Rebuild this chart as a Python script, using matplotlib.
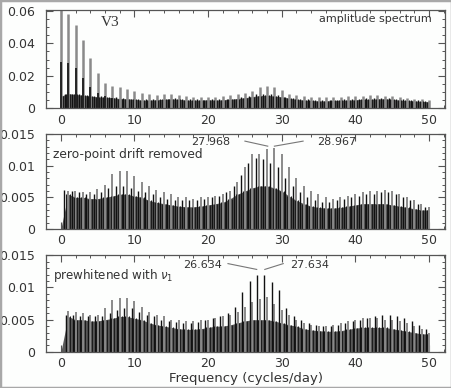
import numpy as np
import matplotlib.pyplot as plt
from matplotlib.ticker import MultipleLocator, FuncFormatter
from matplotlib.patches import Rectangle

# integer frequency grid (cycles/day) used for the noise band
band_freq = np.arange(51)

# ---- panel 1: amplitude spectrum (raw) ----
p1_gray_freq = np.arange(51) + 0.0
p1_gray = [0.062, 0.058, 0.0515, 0.042, 0.031, 0.0215, 0.0155, 0.014, 0.013, 0.012,
           0.0108, 0.0095, 0.0085, 0.008, 0.0085, 0.009, 0.0082, 0.0076, 0.0072, 0.007,
           0.007, 0.0072, 0.0075, 0.008, 0.0085, 0.0095, 0.0105, 0.0133, 0.0138, 0.0133,
           0.0113, 0.009, 0.0082, 0.0075, 0.007, 0.0068, 0.0068, 0.007, 0.0072, 0.0075,
           0.0075, 0.0078, 0.008, 0.008, 0.0078, 0.0075, 0.007, 0.0065, 0.006, 0.0055, 0.005]
p1_core_freq = np.arange(8) + 0.0
p1_core = [0.0285, 0.028, 0.0245, 0.0185, 0.013, 0.0095, 0.0075, 0.0065]
p1_black_freq = np.arange(50) + 0.5
p1_black = [0.0085, 0.009, 0.0085, 0.008, 0.0078, 0.0075, 0.007, 0.0068, 0.0065, 0.006,
            0.0058, 0.0055, 0.0055, 0.0058, 0.006, 0.0062, 0.0058, 0.0055, 0.0055, 0.0052,
            0.0055, 0.0055, 0.0058, 0.006, 0.0068, 0.0075, 0.0085, 0.009, 0.0085, 0.008,
            0.007, 0.0065, 0.006, 0.0055, 0.0052, 0.005, 0.005, 0.0052, 0.0055, 0.0058,
            0.006, 0.0062, 0.0065, 0.0065, 0.0062, 0.006, 0.0055, 0.005, 0.0048, 0.0045]
p1_band = [0.0075, 0.009, 0.0085, 0.008, 0.0075, 0.007, 0.0068, 0.0065, 0.006, 0.0058,
           0.0055, 0.005, 0.005, 0.0052, 0.0055, 0.0058, 0.0055, 0.005, 0.005, 0.005,
           0.0052, 0.005, 0.0052, 0.0055, 0.006, 0.0065, 0.0072, 0.0078, 0.008, 0.0075,
           0.007, 0.0062, 0.0055, 0.005, 0.0048, 0.0045, 0.0045, 0.0048, 0.005, 0.005,
           0.0052, 0.0055, 0.0055, 0.0058, 0.0058, 0.0055, 0.005, 0.0048, 0.0045, 0.0042, 0.004]

# ---- panel 2: zero-point drift removed ----
p2_gray_freq = np.arange(1, 51) - 0.032
p2_gray = [0.006, 0.006, 0.0058, 0.0058, 0.0063, 0.007, 0.0087, 0.0092, 0.0092, 0.0083,
           0.0075, 0.0068, 0.0062, 0.0058, 0.0055, 0.005, 0.005, 0.0048, 0.005, 0.005,
           0.0052, 0.0055, 0.006, 0.0075, 0.0098, 0.0118, 0.0119, 0.0127, 0.0128, 0.0119,
           0.0098, 0.008, 0.0068, 0.006, 0.0055, 0.005, 0.0048, 0.005, 0.0052, 0.0055,
           0.0058, 0.006, 0.006, 0.0062, 0.006, 0.0055, 0.005, 0.0045, 0.004, 0.0035]
p2_black_freq = np.arange(50) + 0.468
p2_black = [0.0062, 0.006, 0.0058, 0.0055, 0.0055, 0.0058, 0.0065, 0.0068, 0.0068, 0.0065,
            0.006, 0.0058, 0.0055, 0.005, 0.0048, 0.0045, 0.0045, 0.0045, 0.0045, 0.0048,
            0.005, 0.0052, 0.0058, 0.0068, 0.0085, 0.0105, 0.0112, 0.011, 0.0105, 0.0098,
            0.008, 0.0068, 0.0058, 0.005, 0.0045, 0.0042, 0.0042, 0.0045, 0.0048, 0.005,
            0.0052, 0.0055, 0.0055, 0.0058, 0.0058, 0.0055, 0.005, 0.0045, 0.004, 0.0035]
p2_band = [0.0, 0.0055, 0.005, 0.005, 0.0048, 0.0048, 0.005, 0.0052, 0.0055, 0.0055,
           0.0052, 0.005, 0.0045, 0.0042, 0.004, 0.0038, 0.0036, 0.0035, 0.0035, 0.0036,
           0.0038, 0.004, 0.0042, 0.0048, 0.0055, 0.006, 0.0065, 0.0068, 0.0068, 0.0065,
           0.006, 0.0052, 0.0045, 0.004, 0.0036, 0.0034, 0.0033, 0.0033, 0.0034, 0.0036,
           0.0038, 0.004, 0.004, 0.004, 0.004, 0.0038, 0.0036, 0.0034, 0.0032, 0.003, 0.003]

# ---- panel 3: prewhitened with nu_1 ----
p3_gray_freq = np.arange(1, 51) + 0.0
p3_gray = [0.0063, 0.0062, 0.006, 0.0058, 0.0058, 0.0068, 0.008, 0.0084, 0.0084, 0.0079,
           0.007, 0.0062, 0.0058, 0.0055, 0.005, 0.005, 0.0048, 0.0048, 0.005, 0.005,
           0.0052, 0.0055, 0.0058, 0.0062, 0.007, 0.0078, 0.0082, 0.0085, 0.0075, 0.0065,
           0.0058, 0.005, 0.0045, 0.0042, 0.004, 0.004, 0.0042, 0.0045, 0.0048, 0.005,
           0.0052, 0.0052, 0.0052, 0.005, 0.005, 0.0048, 0.0045, 0.004, 0.0035, 0.003]
p3_black_freq = np.arange(50) + 0.634
p3_black = [0.0058, 0.0058, 0.0056, 0.0055, 0.0055, 0.0056, 0.006, 0.0065, 0.0068, 0.0068,
            0.0062, 0.0058, 0.0055, 0.005, 0.0048, 0.0046, 0.0045, 0.0045, 0.0047, 0.005,
            0.0052, 0.0055, 0.006, 0.007, 0.0093, 0.011, 0.012, 0.0119, 0.0109, 0.0096,
            0.0068, 0.0055, 0.005, 0.0045, 0.0042, 0.004, 0.004, 0.0042, 0.0045, 0.0048,
            0.005, 0.0053, 0.0055, 0.0057, 0.0058, 0.0055, 0.0052, 0.0048, 0.0042, 0.0035]
p3_band = [0.0, 0.0055, 0.005, 0.005, 0.0048, 0.0048, 0.005, 0.0052, 0.0055, 0.0055,
           0.0052, 0.005, 0.0045, 0.0042, 0.004, 0.0038, 0.0036, 0.0035, 0.0035, 0.0036,
           0.0038, 0.004, 0.004, 0.0042, 0.0045, 0.0048, 0.005, 0.005, 0.005, 0.0048,
           0.0045, 0.0042, 0.004, 0.0036, 0.0034, 0.0033, 0.0032, 0.0032, 0.0033, 0.0035,
           0.0037, 0.0038, 0.0038, 0.0038, 0.0038, 0.0036, 0.0034, 0.0032, 0.003, 0.0028, 0.0028]

TXT = '#333333'
plt.rcParams['font.family'] = ['DejaVu Sans']


def draw_spectrum(ax, gray_f, gray, band, black_f, black, core_f=None, core=None,
                  gray_lw=1.4):
    ax.vlines(gray_f, 0, gray, color='#8a8a8a', lw=gray_lw)
    ax.fill_between(band_freq, 0, band, color='#5a5a5a', lw=0)
    # dense noise: quarter-day sidelobes at the band level
    ax.vlines(band_freq[1:] - 0.25, 0, band[1:], color='#1c1c1c', lw=0.8)
    ax.vlines(band_freq[:-1] + 0.25, 0, band[:-1], color='#1c1c1c', lw=0.8)
    ax.vlines(black_f, 0, black, color='#111111', lw=1.0)
    if core is not None:
        ax.vlines(core_f, 0, core, color='#111111', lw=1.2)


def style_axes(ax, ytop, ymajor, yminor):
    ax.set_xlim(-2, 52.2)
    ax.set_ylim(0, ytop)
    ax.xaxis.set_major_locator(MultipleLocator(10))
    ax.xaxis.set_minor_locator(MultipleLocator(2))
    ax.yaxis.set_major_locator(MultipleLocator(ymajor))
    ax.yaxis.set_minor_locator(MultipleLocator(yminor))
    ax.yaxis.set_major_formatter(FuncFormatter(lambda v, p: f'{v:g}'))
    ax.tick_params(which='both', direction='in', top=True, right=True,
                   colors='#555555', labelcolor=TXT, labelsize=9)
    ax.tick_params(axis='y', which='both', pad=8)
    ax.tick_params(axis='x', which='both', pad=4)
    ax.tick_params(which='major', length=5, width=0.8)
    ax.tick_params(which='minor', length=2.5, width=0.7)
    for s in ax.spines.values():
        s.set_color('#555555')
        s.set_linewidth(0.9)
    ax.set_facecolor('#fdfefd')


fig = plt.figure(figsize=(4.52, 3.88), dpi=100, facecolor='#fdfefd')
ax1 = fig.add_axes([0.102, 0.721, 0.883, 0.253])
ax2 = fig.add_axes([0.102, 0.410, 0.883, 0.245])
ax3 = fig.add_axes([0.102, 0.093, 0.883, 0.250])

draw_spectrum(ax1, p1_gray_freq, p1_gray, np.array(p1_band), p1_black_freq, p1_black,
              p1_core_freq, p1_core, gray_lw=1.8)
style_axes(ax1, 0.0605, 0.02, 0.005)
ax1.text(6.7, 0.053, 'V3', family='Liberation Serif', fontsize=11, color=TXT,
         ha='center', va='center')
ax1.text(0.967, 0.91, 'amplitude spectrum', transform=ax1.transAxes,
         ha='right', va='center', fontsize=8, color=TXT)

draw_spectrum(ax2, p2_gray_freq, p2_gray, np.array(p2_band), p2_black_freq, p2_black)
style_axes(ax2, 0.01505, 0.005, 0.001)
ax2.text(0.018, 0.78, 'zero-point drift removed', transform=ax2.transAxes,
         ha='left', va='center', fontsize=8.8, color=TXT)
ax2.text(20.3, 0.0137, '27.968', ha='center', va='center', fontsize=8, color=TXT)
ax2.text(37.5, 0.0137, '28.967', ha='center', va='center', fontsize=8, color=TXT)
ax2.plot([25.0, 28.1], [0.0139, 0.0131], color='#777777', lw=0.8)
ax2.plot([29.0, 32.9], [0.0131, 0.0139], color='#777777', lw=0.8)

draw_spectrum(ax3, p3_gray_freq, p3_gray, np.array(p3_band), p3_black_freq, p3_black)
style_axes(ax3, 0.01505, 0.005, 0.001)
ax3.text(0.018, 0.79, r'prewhitened with $\nu_1$', transform=ax3.transAxes,
         ha='left', va='center', fontsize=8.6, color=TXT)
ax3.text(19.2, 0.0135, '26.634', ha='center', va='center', fontsize=8, color=TXT)
ax3.text(33.8, 0.0135, '27.634', ha='center', va='center', fontsize=8, color=TXT)
ax3.plot([22.7, 26.6], [0.0137, 0.0128], color='#777777', lw=0.8)
ax3.plot([27.7, 30.2], [0.0128, 0.0137], color='#777777', lw=0.8)
ax3.set_xlabel('Frequency (cycles/day)', fontsize=9.5, color=TXT, labelpad=1)

fig.patches.append(Rectangle((0, 0), 1, 1, transform=fig.transFigure,
                             fill=False, edgecolor='#a8a8a8', lw=2.5))

fig.savefig('out.png', dpi=100, facecolor=fig.get_facecolor())
